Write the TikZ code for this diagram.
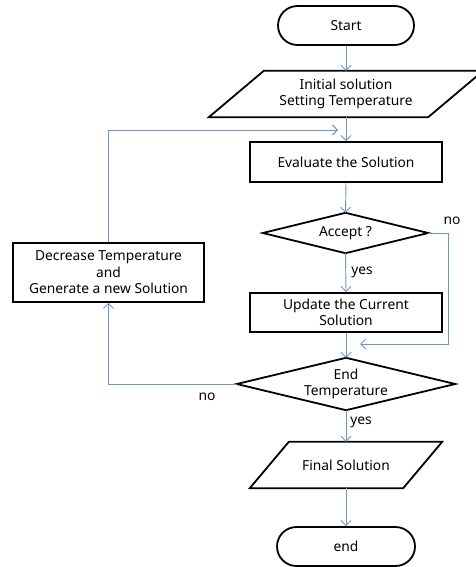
\documentclass[tikz,border=0pt]{standalone}
\usepackage{fontspec}
\setmainfont{Noto Sans}
\usetikzlibrary{arrows.meta}
\definecolor{conn}{RGB}{110,150,205}
\tikzset{
  boxline/.style={line width=1.8pt, black, line join=miter},
  txt/.style={inner sep=0pt, align=center, font=\fontsize{13.8}{16.5}\selectfont},
  conline/.style={draw=conn, line width=0.9pt, -{Straight Barb[length=5pt,width=10pt]}},
  lbl/.style={inner sep=0pt, font=\fontsize{13.8}{16}\selectfont},
}
\begin{document}
\begin{tikzpicture}[x=1pt,y=-1pt]
\clip (0,0) rectangle (476,567);
\fill[white] (0,0) rectangle (476,567);
% nodes
\node[txt, draw, boxline, rounded corners=19.5pt, minimum width=136pt, minimum height=39pt] (start) at (346,25.5) {Start};
\node[txt, minimum width=219pt, minimum height=46pt] (init) at (346,94) {Initial solution\\Setting Temperature};
\draw[boxline] ([xshift=-27.5pt]init.south west) -- ([xshift=-27.5pt]init.south east) -- ([xshift=27.5pt]init.north east) -- ([xshift=27.5pt]init.north west) -- cycle;
\node[txt, draw, boxline, minimum width=192pt, minimum height=40pt] (eval) at (346,162) {Evaluate the Solution};
\node[txt, minimum width=165pt, minimum height=40pt] (accept) at (345.5,233) {Accept ?};
\draw[boxline] (accept.north) -- (accept.east) -- (accept.south) -- (accept.west) -- cycle;
\node[txt, draw, boxline, minimum width=192pt, minimum height=39pt] (update) at (346,312.5) {Update the Current\\Solution};
\node[txt, minimum width=218pt, minimum height=52pt] (endt) at (346,384) {End\\Temperature};
\draw[boxline] (endt.north) -- (endt.east) -- (endt.south) -- (endt.west) -- cycle;
\node[txt, minimum width=153pt, minimum height=46pt] (final) at (346,465) {Final Solution};
\draw[boxline] ([xshift=-19.5pt]final.south west) -- ([xshift=-19.5pt]final.south east) -- ([xshift=19.5pt]final.north east) -- ([xshift=19.5pt]final.north west) -- cycle;
\node[txt, draw, boxline, rounded corners=19.5pt, minimum width=138pt, minimum height=39pt] (end) at (346,546.5) {end};
\node[txt, draw, boxline, minimum width=191pt, minimum height=59pt] (dec) at (108.5,272.5) {Decrease Temperature\\and\\Generate a new Solution};
% connector coordinates
\coordinate (loopin) at (360,344);
\coordinate (topin) at (338,130);
% connectors
\draw[conline] (start.south) -- (init.north);
\draw[conline] (init.south) -- (eval.north);
\draw[conline] (eval.south) -- (accept.north);
\draw[conline] (accept.south) -- (update.north);
\draw[conline] (update.south) -- (endt.north);
\draw[conline] (accept.east) -- (448,233) |- (loopin);
\draw[conline] (endt.south) -- (final.north);
\draw[conline] (final.south) -- (end.north);
\draw[conline] (endt.west) -| (dec.south);
\draw[conline] (dec.north) |- (topin);
% labels
\node[lbl] (no1) at (452,221) {no};
\node[lbl] (yes1) at (362,272) {yes};
\node[lbl] (no2) at (207,397) {no};
\node[lbl] (yes2) at (361,422) {yes};
\end{tikzpicture}
\end{document}
